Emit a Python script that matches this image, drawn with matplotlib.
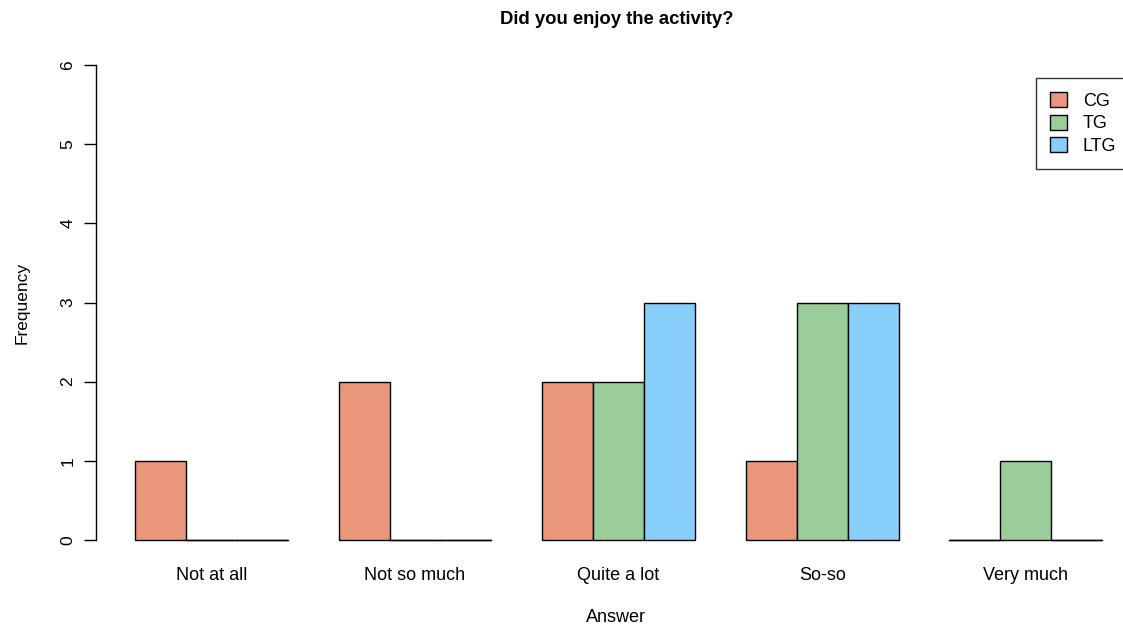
import numpy as np
import matplotlib.pyplot as plt

plt.rcParams['font.family'] = ['Liberation Sans', 'DejaVu Sans']

# --- data ---
answers = ['Not at all', 'Not so much', 'Quite a lot', 'So-so', 'Very much']
groups = ['CG', 'TG', 'LTG']
cg_counts = [1, 2, 2, 1, 0]
tg_counts = [0, 0, 2, 3, 1]
ltg_counts = [0, 0, 3, 3, 0]
yticks = [0, 1, 2, 3, 4, 5, 6]

colors = ['#E9967A', '#9BCD9B', '#87CEFA']
W, H = 1123, 627

fig = plt.figure(figsize=(W / 100, H / 100), dpi=100)
# plot region in pixels (R style: 4% padding around data range)
left, right, top, bottom = 96, 1123, 46, 559
ax = fig.add_axes([left / W, 1 - bottom / H, (right - left) / W, (bottom - top) / H])

# R barplot(beside=TRUE): each group preceded by one bar-width gap
series = [cg_counts, tg_counts, ltg_counts]
n = len(groups)
group_start = np.arange(len(answers)) * (n + 1) + 1
for j, (vals, col) in enumerate(zip(series, colors)):
    ax.bar(group_start + j, vals, width=1, align='edge', color=col,
           edgecolor='black', linewidth=1, label=groups[j])
    # zero height bars show up as a flat line in R
    for x0, v in zip(group_start + j, vals):
        if v == 0:
            ax.plot([x0, x0 + 1], [0, 0], color='black', lw=1)

unit = 50.9
ax.set_xlim(1 - (135 - left) / unit, 1 + (right - 135) / unit)
ax.set_ylim(-0.24, 6.24)

for s in ['top', 'right', 'bottom']:
    ax.spines[s].set_visible(False)
ax.spines['left'].set_bounds(0, 6)
ax.spines['left'].set_linewidth(1)

ax.set_yticks(yticks)
ax.set_yticklabels([str(t) for t in yticks], rotation=90, va='center', fontsize=12.5)
ax.tick_params(axis='y', length=9, width=1, pad=6)
ax.set_xticks(group_start + n / 2)
ax.set_xticklabels(answers, fontsize=13)
ax.tick_params(axis='x', length=0, pad=6)

ax.set_ylabel('Frequency', fontsize=12.5, labelpad=22)
ax.set_xlabel('Answer', fontsize=13, labelpad=20)
ax.xaxis.set_label_coords((616 - left) / (right - left), -(618 - bottom) / (bottom - top))
ax.xaxis.label.set_va('center')
fig.text(617 / W, 1 - 20 / H, 'Did you enjoy the activity?', ha='center', va='center',
         fontsize=13.3, fontweight='bold')

leg = ax.legend(loc='upper left', bbox_to_anchor=(1036 / W, 1 - 78 / H),
                bbox_transform=fig.transFigure, fontsize=13, frameon=True,
                fancybox=False, edgecolor='black', handlelength=0.9,
                handleheight=0.9, handletextpad=0.9, labelspacing=0.25,
                borderpad=0.8, borderaxespad=0)
leg.get_frame().set_linewidth(1)

fig.savefig('out.png', dpi=100)
